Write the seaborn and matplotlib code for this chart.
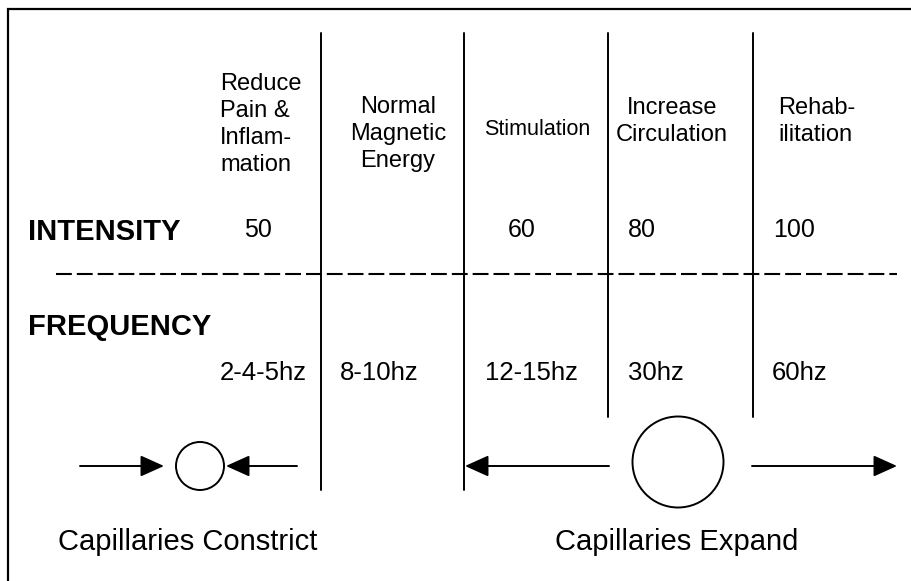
"""
Magnetic therapy diagram: intensity / frequency columns with capillary arrows.
"""

import matplotlib
matplotlib.use("Agg")
import matplotlib.pyplot as plt
from matplotlib.patches import Circle
import seaborn as sns

# ── Data ───────────────────────────────────────────────────────
headers = [
    ["Reduce", "Pain &", "Inflam-", "mation"],
    ["Normal", "Magnetic", "Energy"],
    ["Stimulation"],
    ["Increase", "Circulation"],
    ["Rehab-", "ilitation"],
]
intensity = ["50", "", "60", "80", "100"]
frequency = ["2-4-5hz", "8-10hz", "12-15hz", "30hz", "60hz"]
row_labels = ["INTENSITY", "FREQUENCY"]
capillary_labels = ["Capillaries Constrict", "Capillaries Expand"]

# ── Layout (pixel space, origin top-left) ─────────────────────
W, H = 912, 581
header_x = [220, 398, 537, 672, 778]
header_ha = ["left", "center", "center", "center", "left"]
header_y0 = [90, 113, 135, 114, 114]
header_size = [17, 17, 15.5, 17, 17]
line_step = 27
intensity_x = [244, 0, 508, 628, 773]
freq_x = [220, 340, 485, 628, 772]
dividers = [(321, 33, 490), (464, 33, 490), (608, 33, 417), (753, 33, 417)]

sns.set_theme(style="white")
plt.rcParams['font.family'] = ['Liberation Sans', 'DejaVu Sans']
plt.rcParams['text.color'] = 'black'

fig = plt.figure(figsize=(W / 100, H / 100), dpi=100)
ax = fig.add_axes([0, 0, 1, 1])
ax.set_xlim(0, W)
ax.set_ylim(H, 0)
ax.axis('off')

# frame (cut off at right and bottom)
ax.plot([8, 8, W], [H, 9, 9], color='black', lw=1.6, solid_joinstyle='miter')

# column dividers
for x, y0, y1 in dividers:
    ax.plot([x, x], [y0, y1], color='black', lw=1.4)

# dashed separator
ax.plot([56, 897], [274, 274], color='black', lw=1.5,
        linestyle=(0, (7.6, 2.4)))

# column headers
for lines, x, ha, y0, fs in zip(headers, header_x, header_ha, header_y0, header_size):
    for i, txt in enumerate(lines):
        ax.text(x, y0 + i * line_step, txt, ha=ha, va='baseline', fontsize=fs)

# row labels
ax.text(28, 240, row_labels[0], fontsize=21, fontweight='bold', va='baseline')
ax.text(28, 335, row_labels[1], fontsize=21, fontweight='bold', va='baseline')

for txt, x in zip(intensity, intensity_x):
    if txt:
        ax.text(x, 237, txt, fontsize=18, va='baseline')
for txt, x in zip(frequency, freq_x):
    ax.text(x, 380, txt, fontsize=18.5, va='baseline')

# arrows + circles
arrow_kw = dict(arrowstyle='-|>,head_length=1.0,head_width=0.45',
                mutation_scale=14.5, lw=1.4, color='black',
                shrinkA=0, shrinkB=0)
arrows = [((80, 466), (164, 466)), ((297, 466), (226, 466)),
          ((609, 466), (465, 466)), ((752, 466), (897, 466))]
for start, end in arrows:
    ax.annotate('', xy=end, xytext=start, arrowprops=arrow_kw)

ax.add_patch(Circle((200, 466), 24, fill=False, ec='black', lw=1.4))
ax.add_patch(Circle((678, 462), 45.5, fill=False, ec='black', lw=1.4))

ax.text(58, 550, capillary_labels[0], fontsize=21, va='baseline')
ax.text(677, 550, capillary_labels[1], fontsize=21, va='baseline', ha='center')

fig.savefig("out.png", dpi=100)
plt.close(fig)
